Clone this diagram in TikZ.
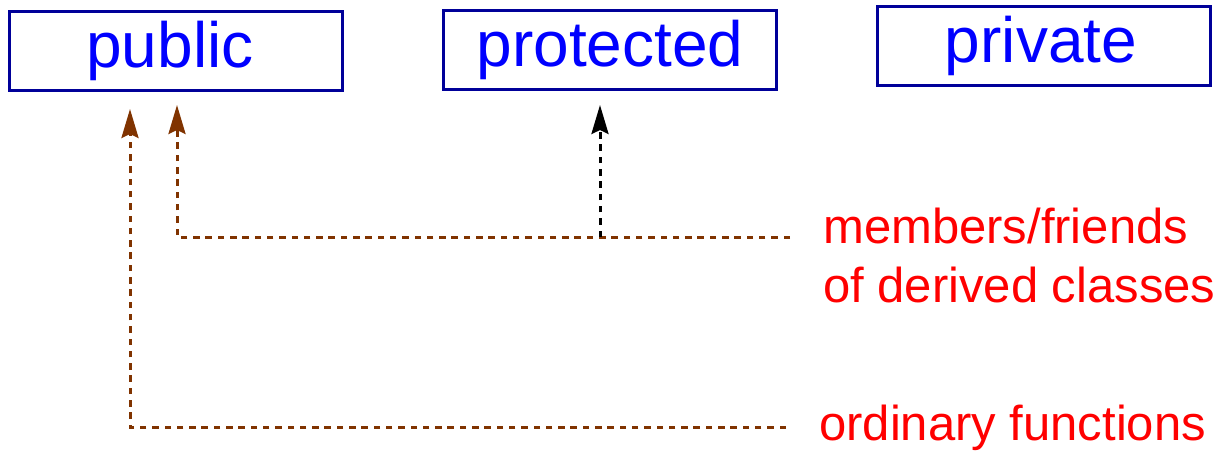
\documentclass[tikz,border=0pt]{standalone}
\usepackage{fontspec}
\setmainfont{Liberation Sans}
\usetikzlibrary{arrows.meta}
\definecolor{boxblue}{RGB}{0,0,153}
\definecolor{txtblue}{RGB}{0,0,255}
\definecolor{brownline}{RGB}{128,51,0}
\begin{document}
\begin{tikzpicture}[x=1pt,y=-1pt,
  accbox/.style={draw=boxblue, line width=3pt, minimum width=333pt, minimum height=79pt, inner sep=0pt, text=txtblue, font=\fontsize{64}{70}\selectfont},
  lbl/.style={text=red, font=\fontsize{49}{59}\selectfont, anchor=base west, inner sep=0pt},
  conn/.style={line width=3pt, dash pattern=on 6.5pt off 5.8pt, -{Stealth[length=29pt,width=17pt,inset=4pt]}}]
\useasboundingbox (0,0) rectangle (1224,450);
\node[accbox] (pub) at (176,50.5) {\hspace*{-12pt}public};
\node[accbox] (prot) at (610,50) {protected};
\node[accbox] (priv) at (1044,46) {\hspace*{-6pt}private};
\node[lbl] (mem) at (823,243) {members/friends};
\node[lbl] (der) at (823,302) {of derived classes};
\node[lbl] (ord) at (819,440) {ordinary functions};
\coordinate (ordend) at (786,427);
\coordinate (ordcorner) at (130,427);
\coordinate (pubtipA) at (130,109);
\coordinate (memend) at (790,237);
\coordinate (memcorner) at (177,237);
\coordinate (pubtipB) at (177,105);
\coordinate (protfoot) at (600,237);
\coordinate (prottip) at (600,105);
\draw[conn, brownline] (ordend) -- (ordcorner) -- (pubtipA);
\draw[conn, brownline] (memend) -- (memcorner) -- (pubtipB);
\draw[conn, black] (protfoot) -- (prottip);
\end{tikzpicture}
\end{document}
